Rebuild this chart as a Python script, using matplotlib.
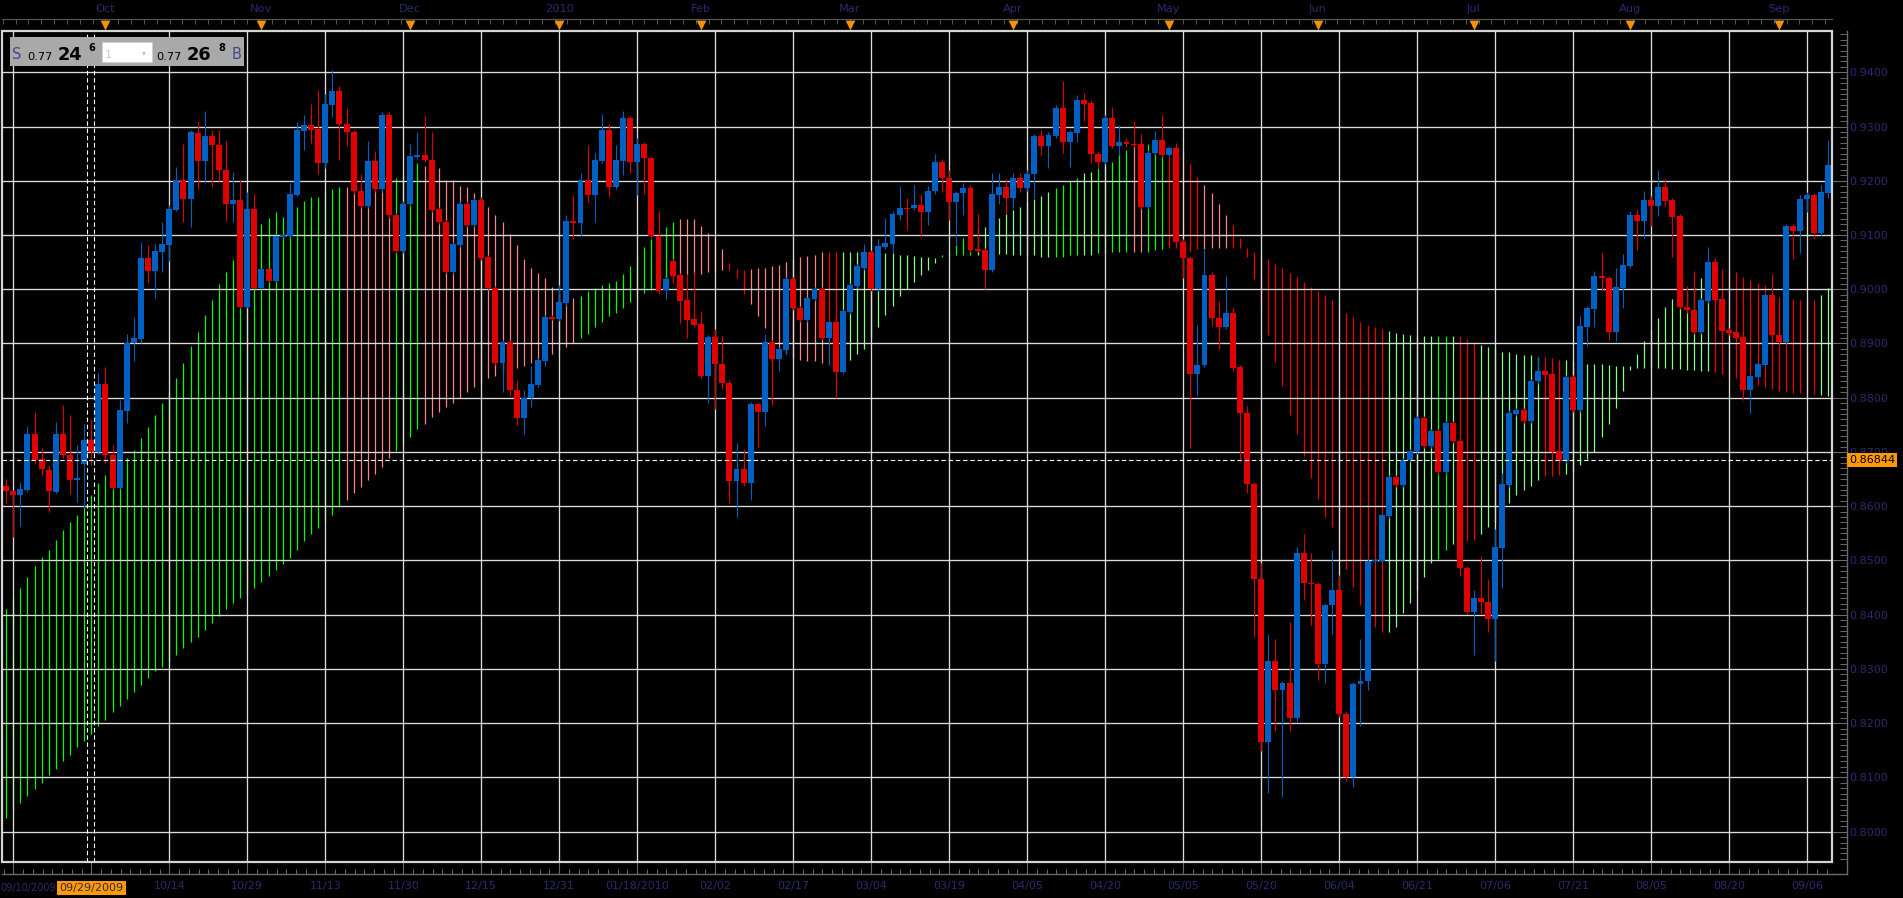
import numpy as np
import matplotlib
matplotlib.use("Agg")
import matplotlib.pyplot as plt
from matplotlib.patches import Rectangle
from matplotlib.lines import Line2D
from matplotlib.ticker import MultipleLocator, FixedLocator, FormatStrFormatter, NullFormatter
from matplotlib.transforms import blended_transform_factory

W, H = 1903, 898

# daily candles, one per bar (0 = first visible bar)
opens = [
    0.8638, 0.8628, 0.8620, 0.8630, 0.8734, 0.8687, 0.8666, 0.8626, 0.8734, 0.8694,
    0.8649, 0.8678, 0.8722, 0.8700, 0.8826, 0.8694, 0.8634, 0.8776, 0.8900, 0.8908,
    0.9058, 0.9034, 0.9068, 0.9082, 0.9146, 0.9202, 0.9166, 0.9288, 0.9236, 0.9282,
    0.9266, 0.9220, 0.9158, 0.9164, 0.8968, 0.9148, 0.9002, 0.9038, 0.9016, 0.9096,
    0.9098, 0.9174, 0.9292, 0.9303, 0.9296, 0.9232, 0.9340, 0.9366, 0.9304, 0.9290,
    0.9182, 0.9154, 0.9236, 0.9184, 0.9322, 0.9136, 0.9070, 0.9158, 0.9244, 0.9248,
    0.9238, 0.9148, 0.9124, 0.9032, 0.9082, 0.9158, 0.9118, 0.9164, 0.9060, 0.9002,
    0.8864, 0.8902, 0.8815, 0.8762, 0.8799, 0.8824, 0.8868, 0.8948, 0.8946, 0.8974,
    0.9126, 0.9122, 0.9202, 0.9174, 0.9236, 0.9294, 0.9188, 0.9236, 0.9316, 0.9234,
    0.9268, 0.9242, 0.9098, 0.8998, 0.9052, 0.9026, 0.8980, 0.8946, 0.8936, 0.8840,
    0.8912, 0.8862, 0.8828, 0.8646, 0.8668, 0.8642, 0.8788, 0.8774, 0.8902, 0.8872,
    0.8888, 0.9018, 0.8966, 0.8944, 0.8982, 0.9000, 0.8910, 0.8940, 0.8848, 0.8958,
    0.9006, 0.9040, 0.9068, 0.9000, 0.9078, 0.9084, 0.9136, 0.9150, 0.9150, 0.9156,
    0.9142, 0.9181, 0.9235, 0.9205, 0.9161, 0.9178, 0.9186, 0.9073, 0.9072, 0.9035,
    0.9173, 0.9188, 0.9168, 0.9205, 0.9186, 0.9212, 0.9282, 0.9264, 0.9282, 0.9334,
    0.9271, 0.9288, 0.9348, 0.9343, 0.9250, 0.9235, 0.9316, 0.9264, 0.9271, 0.9268,
    0.9268, 0.9152, 0.9251, 0.9275, 0.9248, 0.9260, 0.9088, 0.9058, 0.8843, 0.8861,
    0.9026, 0.8947, 0.8930, 0.8957, 0.8856, 0.8772, 0.8641, 0.8465, 0.8165, 0.8314,
    0.8261, 0.8274, 0.8210, 0.8513, 0.8459, 0.8456, 0.8309, 0.8417, 0.8446, 0.8217,
    0.8101, 0.8272, 0.8277, 0.8499, 0.8499, 0.8582, 0.8654, 0.8640, 0.8685, 0.8701,
    0.8762, 0.8711, 0.8738, 0.8663, 0.8753, 0.8721, 0.8487, 0.8405, 0.8431, 0.8424,
    0.8393, 0.8523, 0.8639, 0.8770, 0.8777, 0.8757, 0.8830, 0.8849, 0.8843, 0.8701,
    0.8683, 0.8838, 0.8778, 0.8931, 0.8964, 0.9024, 0.9021, 0.8922, 0.9002, 0.9043,
    0.9137, 0.9125, 0.9164, 0.9154, 0.9188, 0.9164, 0.9135, 0.8968, 0.8961, 0.8922,
    0.8978, 0.9051, 0.8982, 0.8925, 0.8922, 0.8912, 0.8814, 0.8839, 0.8860, 0.8989,
    0.8916, 0.8903, 0.9117, 0.9108, 0.9166, 0.9174, 0.9104, 0.9178,
]
highs = [
    0.8650, 0.8630, 0.8644, 0.8748, 0.8774, 0.8708, 0.8676, 0.8756, 0.8786, 0.8768,
    0.8712, 0.8752, 0.8760, 0.8846, 0.8856, 0.8712, 0.8796, 0.8918, 0.8948, 0.9088,
    0.9082, 0.9084, 0.9124, 0.9156, 0.9226, 0.9268, 0.9294, 0.9310, 0.9328, 0.9294,
    0.9294, 0.9274, 0.9216, 0.9202, 0.9180, 0.9176, 0.9040, 0.9040, 0.9100, 0.9102,
    0.9196, 0.9308, 0.9322, 0.9342, 0.9368, 0.9360, 0.9404, 0.9374, 0.9334, 0.9294,
    0.9212, 0.9274, 0.9254, 0.9326, 0.9326, 0.9140, 0.9162, 0.9268, 0.9290, 0.9320,
    0.9290, 0.9152, 0.9128, 0.9088, 0.9162, 0.9162, 0.9168, 0.9170, 0.9064, 0.9006,
    0.8906, 0.8906, 0.8832, 0.8815, 0.8858, 0.8874, 0.8952, 0.8952, 0.9008, 0.9136,
    0.9172, 0.9214, 0.9266, 0.9252, 0.9324, 0.9304, 0.9266, 0.9328, 0.9320, 0.9278,
    0.9272, 0.9246, 0.9145, 0.9022, 0.9056, 0.9030, 0.9028, 0.9032, 0.8960, 0.8916,
    0.8926, 0.8914, 0.8832, 0.8716, 0.8706, 0.8792, 0.8792, 0.8918, 0.8906, 0.8894,
    0.9022, 0.9022, 0.8970, 0.8986, 0.9004, 0.9004, 0.8944, 0.8944, 0.8964, 0.9012,
    0.9046, 0.9084, 0.9072, 0.9092, 0.9132, 0.9144, 0.9190, 0.9168, 0.9192, 0.9176,
    0.9190, 0.9250, 0.9240, 0.9219, 0.9182, 0.9195, 0.9193, 0.9138, 0.9076, 0.9214,
    0.9214, 0.9203, 0.9214, 0.9214, 0.9219, 0.9287, 0.9294, 0.9290, 0.9340, 0.9384,
    0.9294, 0.9359, 0.9361, 0.9349, 0.9254, 0.9322, 0.9336, 0.9302, 0.9278, 0.9310,
    0.9286, 0.9256, 0.9292, 0.9322, 0.9264, 0.9270, 0.9092, 0.9062, 0.8934, 0.9072,
    0.9032, 0.8978, 0.9024, 0.8968, 0.8860, 0.8785, 0.8645, 0.8496, 0.8364, 0.8356,
    0.8278, 0.8387, 0.8525, 0.8548, 0.8514, 0.8460, 0.8420, 0.8520, 0.8473, 0.8222,
    0.8276, 0.8356, 0.8503, 0.8504, 0.8587, 0.8658, 0.8658, 0.8689, 0.8705, 0.8766,
    0.8766, 0.8742, 0.8742, 0.8757, 0.8757, 0.8725, 0.8490, 0.8446, 0.8508, 0.8466,
    0.8558, 0.8661, 0.8777, 0.8781, 0.8781, 0.8835, 0.8876, 0.8853, 0.8847, 0.8705,
    0.8842, 0.8842, 0.8951, 0.8970, 0.9033, 0.9066, 0.9025, 0.9040, 0.9065, 0.9145,
    0.9148, 0.9181, 0.9172, 0.9220, 0.9203, 0.9168, 0.9139, 0.9006, 0.9034, 0.8984,
    0.9078, 0.9057, 0.8986, 0.8929, 0.8926, 0.8916, 0.8844, 0.8866, 0.8993, 0.9028,
    0.8920, 0.9121, 0.9121, 0.9174, 0.9179, 0.9178, 0.9192, 0.9275,
]
lows = [
    0.8606, 0.8544, 0.8564, 0.8626, 0.8680, 0.8656, 0.8590, 0.8624, 0.8688, 0.8622,
    0.8608, 0.8596, 0.8676, 0.8696, 0.8680, 0.8632, 0.8632, 0.8754, 0.8868, 0.8900,
    0.9012, 0.8984, 0.9032, 0.9052, 0.9144, 0.9124, 0.9114, 0.9184, 0.9196, 0.9188,
    0.9200, 0.9126, 0.9124, 0.8966, 0.8966, 0.9000, 0.9000, 0.9014, 0.9014, 0.9094,
    0.9096, 0.9172, 0.9256, 0.9270, 0.9212, 0.9224, 0.9318, 0.9238, 0.9264, 0.9176,
    0.9150, 0.9150, 0.9180, 0.9180, 0.9132, 0.9066, 0.9066, 0.9154, 0.9240, 0.9234,
    0.9142, 0.9120, 0.9030, 0.9028, 0.9078, 0.9114, 0.9114, 0.9054, 0.8998, 0.8860,
    0.8810, 0.8804, 0.8750, 0.8734, 0.8782, 0.8820, 0.8858, 0.8944, 0.8942, 0.8970,
    0.9092, 0.9098, 0.9160, 0.9124, 0.9232, 0.9170, 0.9184, 0.9210, 0.9215, 0.9174,
    0.9176, 0.9094, 0.8992, 0.8982, 0.9012, 0.8938, 0.8910, 0.8930, 0.8836, 0.8790,
    0.8780, 0.8816, 0.8606, 0.8580, 0.8638, 0.8612, 0.8710, 0.8748, 0.8786, 0.8850,
    0.8878, 0.8962, 0.8940, 0.8940, 0.8978, 0.8906, 0.8860, 0.8800, 0.8844, 0.8954,
    0.9002, 0.9036, 0.8996, 0.8996, 0.9074, 0.9066, 0.9128, 0.9110, 0.9146, 0.9096,
    0.9118, 0.9175, 0.9180, 0.9127, 0.9083, 0.9136, 0.9068, 0.9068, 0.9000, 0.9032,
    0.9158, 0.9138, 0.9149, 0.9180, 0.9182, 0.9168, 0.9248, 0.9223, 0.9278, 0.9251,
    0.9226, 0.9271, 0.9311, 0.9232, 0.9223, 0.9230, 0.9260, 0.9247, 0.9262, 0.9262,
    0.9148, 0.9148, 0.9247, 0.9244, 0.9244, 0.9084, 0.9021, 0.8707, 0.8803, 0.8857,
    0.8932, 0.8889, 0.8926, 0.8850, 0.8684, 0.8624, 0.8358, 0.8148, 0.8071, 0.8185,
    0.8064, 0.8185, 0.8202, 0.8428, 0.8381, 0.8280, 0.8275, 0.8364, 0.8212, 0.8094,
    0.8082, 0.8194, 0.8262, 0.8496, 0.8496, 0.8578, 0.8636, 0.8636, 0.8681, 0.8697,
    0.8707, 0.8707, 0.8659, 0.8659, 0.8717, 0.8471, 0.8401, 0.8325, 0.8402, 0.8369,
    0.8314, 0.8450, 0.8635, 0.8766, 0.8753, 0.8753, 0.8826, 0.8838, 0.8696, 0.8679,
    0.8679, 0.8774, 0.8774, 0.8896, 0.8930, 0.8999, 0.8907, 0.8905, 0.8965, 0.9039,
    0.9072, 0.9095, 0.9117, 0.9135, 0.9153, 0.9059, 0.8964, 0.8957, 0.8918, 0.8918,
    0.8974, 0.8977, 0.8919, 0.8915, 0.8907, 0.8796, 0.8771, 0.8835, 0.8856, 0.8912,
    0.8899, 0.8899, 0.9055, 0.9066, 0.9142, 0.9093, 0.9098, 0.9168,
]
closes = [
    0.8628, 0.8620, 0.8632, 0.8734, 0.8686, 0.8668, 0.8628, 0.8734, 0.8694, 0.8648,
    0.8652, 0.8722, 0.8700, 0.8826, 0.8694, 0.8634, 0.8778, 0.8900, 0.8910, 0.9058,
    0.9034, 0.9070, 0.9084, 0.9148, 0.9202, 0.9166, 0.9290, 0.9236, 0.9282, 0.9266,
    0.9220, 0.9158, 0.9164, 0.8968, 0.9148, 0.9002, 0.9038, 0.9016, 0.9098, 0.9100,
    0.9176, 0.9294, 0.9303, 0.9294, 0.9232, 0.9342, 0.9366, 0.9304, 0.9290, 0.9182,
    0.9154, 0.9236, 0.9184, 0.9322, 0.9136, 0.9070, 0.9158, 0.9246, 0.9248, 0.9238,
    0.9146, 0.9124, 0.9032, 0.9084, 0.9158, 0.9118, 0.9164, 0.9058, 0.9002, 0.8864,
    0.8902, 0.8815, 0.8762, 0.8799, 0.8826, 0.8870, 0.8948, 0.8945, 0.8976, 0.9126,
    0.9122, 0.9202, 0.9174, 0.9238, 0.9294, 0.9188, 0.9238, 0.9316, 0.9234, 0.9268,
    0.9242, 0.9098, 0.8996, 0.9018, 0.9024, 0.8978, 0.8944, 0.8934, 0.8840, 0.8912,
    0.8862, 0.8828, 0.8646, 0.8668, 0.8642, 0.8788, 0.8774, 0.8902, 0.8872, 0.8890,
    0.9018, 0.8966, 0.8944, 0.8983, 0.9000, 0.8910, 0.8940, 0.8848, 0.8960, 0.9008,
    0.9042, 0.9068, 0.9000, 0.9080, 0.9086, 0.9138, 0.9150, 0.9148, 0.9156, 0.9142,
    0.9182, 0.9235, 0.9205, 0.9161, 0.9178, 0.9186, 0.9072, 0.9071, 0.9035, 0.9175,
    0.9188, 0.9168, 0.9205, 0.9186, 0.9212, 0.9282, 0.9264, 0.9284, 0.9334, 0.9271,
    0.9290, 0.9348, 0.9342, 0.9250, 0.9235, 0.9316, 0.9264, 0.9271, 0.9267, 0.9266,
    0.9152, 0.9251, 0.9275, 0.9248, 0.9260, 0.9088, 0.9058, 0.8843, 0.8861, 0.9026,
    0.8947, 0.8930, 0.8957, 0.8854, 0.8772, 0.8641, 0.8465, 0.8165, 0.8314, 0.8261,
    0.8274, 0.8210, 0.8513, 0.8458, 0.8456, 0.8309, 0.8418, 0.8446, 0.8217, 0.8101,
    0.8272, 0.8277, 0.8499, 0.8501, 0.8583, 0.8654, 0.8640, 0.8685, 0.8701, 0.8762,
    0.8711, 0.8738, 0.8663, 0.8753, 0.8721, 0.8487, 0.8405, 0.8431, 0.8424, 0.8393,
    0.8525, 0.8641, 0.8772, 0.8777, 0.8757, 0.8831, 0.8849, 0.8842, 0.8700, 0.8683,
    0.8838, 0.8778, 0.8932, 0.8965, 0.9024, 0.9020, 0.8922, 0.9004, 0.9045, 0.9137,
    0.9125, 0.9164, 0.9154, 0.9188, 0.9163, 0.9134, 0.8968, 0.8961, 0.8922, 0.8980,
    0.9051, 0.8981, 0.8923, 0.8919, 0.8911, 0.8814, 0.8840, 0.8862, 0.8989, 0.8916,
    0.8903, 0.9117, 0.9108, 0.9167, 0.9174, 0.9104, 0.9180, 0.9229,
]

# ichimoku cloud, upper and lower edge per bar
cloud_top = [
    0.8411, 0.8430, 0.8450, 0.8470, 0.8489, 0.8506, 0.8520, 0.8538, 0.8557, 0.8571,
    0.8584, 0.8599, 0.8620, 0.8643, 0.8658, 0.8665, 0.8674, 0.8689, 0.8704, 0.8726,
    0.8746, 0.8768, 0.8790, 0.8810, 0.8836, 0.8864, 0.8896, 0.8922, 0.8952, 0.8980,
    0.9010, 0.9032, 0.9054, 0.9062, 0.9084, 0.9104, 0.9120, 0.9132, 0.9142, 0.9134,
    0.9142, 0.9152, 0.9162, 0.9170, 0.9170, 0.9180, 0.9184, 0.9188, 0.9188, 0.9188,
    0.9176, 0.9184, 0.9188, 0.9184, 0.9184, 0.9206, 0.9210, 0.9224, 0.9232, 0.9228,
    0.9228, 0.9224, 0.9202, 0.9202, 0.9190, 0.9188, 0.9178, 0.9168, 0.9152, 0.9136,
    0.9124, 0.9102, 0.9082, 0.9056, 0.9040, 0.9030, 0.9020, 0.9004, 0.8992, 0.8984,
    0.8984, 0.8988, 0.8996, 0.9002, 0.9008, 0.9012, 0.9016, 0.9028, 0.9042, 0.9060,
    0.9078, 0.9092, 0.9104, 0.9114, 0.9124, 0.9130, 0.9130, 0.9130, 0.9116, 0.9104,
    0.9092, 0.9074, 0.9048, 0.9038, 0.9036, 0.9038, 0.9040, 0.9040, 0.9042, 0.9044,
    0.9050, 0.9056, 0.9060, 0.9062, 0.9064, 0.9068, 0.9068, 0.9068, 0.9068, 0.9068,
    0.9068, 0.9068, 0.9068, 0.9068, 0.9066, 0.9066, 0.9064, 0.9064, 0.9062, 0.9060,
    0.9060, 0.9058, 0.9063, 0.9069, 0.9081, 0.9094, 0.9101, 0.9113, 0.9115, 0.9123,
    0.9131, 0.9138, 0.9146, 0.9152, 0.9161, 0.9166, 0.9172, 0.9180, 0.9187, 0.9193,
    0.9200, 0.9205, 0.9214, 0.9217, 0.9223, 0.9226, 0.9235, 0.9247, 0.9256, 0.9267,
    0.9262, 0.9267, 0.9267, 0.9269, 0.9262, 0.9258, 0.9253, 0.9230, 0.9207, 0.9193,
    0.9177, 0.9157, 0.9136, 0.9118, 0.9094, 0.9076, 0.9069, 0.9063, 0.9056, 0.9046,
    0.9039, 0.9030, 0.9022, 0.9014, 0.9005, 0.8996, 0.8989, 0.8980, 0.8970, 0.8957,
    0.8948, 0.8940, 0.8934, 0.8930, 0.8927, 0.8923, 0.8919, 0.8918, 0.8916, 0.8914,
    0.8914, 0.8913, 0.8913, 0.8914, 0.8914, 0.8913, 0.8908, 0.8902, 0.8898, 0.8893,
    0.8891, 0.8884, 0.8884, 0.8880, 0.8878, 0.8878, 0.8876, 0.8876, 0.8874, 0.8870,
    0.8870, 0.8868, 0.8865, 0.8863, 0.8863, 0.8862, 0.8860, 0.8858, 0.8858, 0.8858,
    0.8880, 0.8905, 0.8925, 0.8947, 0.8967, 0.8982, 0.8987, 0.8993, 0.9004, 0.9020,
    0.9031, 0.9045, 0.9038, 0.9037, 0.9031, 0.9022, 0.9017, 0.9011, 0.9008, 0.8994,
    0.8986, 0.8984, 0.8982, 0.8980, 0.8980, 0.8980, 0.8989, 0.9002,
]
cloud_bot = [
    0.8025, 0.8040, 0.8052, 0.8066, 0.8078, 0.8090, 0.8104, 0.8116, 0.8130, 0.8142,
    0.8156, 0.8168, 0.8180, 0.8194, 0.8206, 0.8220, 0.8232, 0.8244, 0.8258, 0.8270,
    0.8284, 0.8296, 0.8304, 0.8313, 0.8325, 0.8338, 0.8349, 0.8359, 0.8371, 0.8384,
    0.8397, 0.8410, 0.8421, 0.8431, 0.8439, 0.8449, 0.8460, 0.8471, 0.8482, 0.8494,
    0.8504, 0.8519, 0.8536, 0.8548, 0.8560, 0.8572, 0.8584, 0.8598, 0.8612, 0.8624,
    0.8636, 0.8648, 0.8660, 0.8672, 0.8688, 0.8702, 0.8716, 0.8728, 0.8742, 0.8752,
    0.8764, 0.8774, 0.8782, 0.8790, 0.8800, 0.8810, 0.8820, 0.8828, 0.8836, 0.8840,
    0.8846, 0.8852, 0.8854, 0.8858, 0.8864, 0.8870, 0.8876, 0.8880, 0.8888, 0.8894,
    0.8900, 0.8910, 0.8918, 0.8930, 0.8940, 0.8950, 0.8956, 0.8966, 0.8977, 0.8984,
    0.8994, 0.8998, 0.9004, 0.9004, 0.9018, 0.9020, 0.9024, 0.9026, 0.9028, 0.9032,
    0.9034, 0.9036, 0.9036, 0.9020, 0.8992, 0.8972, 0.8950, 0.8928, 0.8904, 0.8890,
    0.8880, 0.8874, 0.8870, 0.8868, 0.8868, 0.8864, 0.8862, 0.8862, 0.8864, 0.8870,
    0.8880, 0.8890, 0.8910, 0.8930, 0.8952, 0.8970, 0.8988, 0.9000, 0.9014, 0.9026,
    0.9036, 0.9049, 0.9059, 0.9063, 0.9063, 0.9063, 0.9063, 0.9063, 0.9063, 0.9065,
    0.9065, 0.9065, 0.9063, 0.9063, 0.9063, 0.9063, 0.9060, 0.9060, 0.9060, 0.9060,
    0.9063, 0.9063, 0.9063, 0.9063, 0.9067, 0.9067, 0.9069, 0.9069, 0.9069, 0.9069,
    0.9069, 0.9069, 0.9072, 0.9074, 0.9076, 0.9076, 0.9076, 0.9069, 0.9074, 0.9074,
    0.9076, 0.9076, 0.9076, 0.9076, 0.9076, 0.9060, 0.9019, 0.8964, 0.8915, 0.8866,
    0.8821, 0.8769, 0.8734, 0.8693, 0.8652, 0.8613, 0.8581, 0.8562, 0.8530, 0.8485,
    0.8451, 0.8417, 0.8399, 0.8378, 0.8368, 0.8368, 0.8377, 0.8404, 0.8422, 0.8446,
    0.8470, 0.8496, 0.8503, 0.8519, 0.8530, 0.8532, 0.8535, 0.8537, 0.8548, 0.8561,
    0.8570, 0.8592, 0.8606, 0.8621, 0.8630, 0.8638, 0.8649, 0.8655, 0.8655, 0.8657,
    0.8659, 0.8665, 0.8676, 0.8687, 0.8700, 0.8727, 0.8752, 0.8781, 0.8813, 0.8851,
    0.8854, 0.8854, 0.8854, 0.8854, 0.8854, 0.8853, 0.8853, 0.8851, 0.8851, 0.8849,
    0.8849, 0.8847, 0.8843, 0.8840, 0.8836, 0.8829, 0.8827, 0.8824, 0.8819, 0.8816,
    0.8813, 0.8811, 0.8809, 0.8808, 0.8807, 0.8806, 0.8805, 0.8803,
]
# G bright green, g light green, R red, r light red
cloud_kind = "".join([
    "GGGGGGGGGG", "GGGGGGGGGG", "GGGGGGGGGG", "GGGGGGGGGG", "GGGGGGGGrr",
    "rrrrrGGGGr", "rrrrrrrrrr", "rrrrrrrrrr", "rGGGGGGGGG", "GGGGGrrrrr",
    "rrRRRrrrrr", "rrrrrrRRgg", "gggggggggg", "ggGGGGGggG", "ggggggggGG",
    "GGggGGGGGr", "rGGGRRRRRr", "rrrRRRRRRR", "RRRRRRRRRR", "RRRRRggggg",
    "ggGGgRRRgg", "gggggggRRR", "gggggggggg", "gggggggggg", "gRRRRRRRRR",
    "RRRRRRgg",
])

date_labels = ["", "", "10/14", "10/29", "11/13", "11/30", "12/15", "12/31",
               "01/18/2010", "02/02", "02/17", "03/04", "03/19", "04/05", "04/20",
               "05/05", "05/20", "06/04", "06/21", "07/06", "07/21", "08/05",
               "08/20", "09/06"]
first_label = "09/10/2009"
months = ["Oct", "Nov", "Dec", "2010", "Feb", "Mar", "Apr", "May", "Jun", "Jul", "Aug", "Sep"]
month_bar = [14, 36, 57, 78, 98, 119, 142, 164, 185, 207, 229, 250]
cursor_bar = 12
cursor_label = "09/29/2009"
last_price = 0.86844

NAVY = "#2b2b6c"
BLUE = "#0060c4"
RED = "#e00000"
GRID = "#dcdcdc"
kind_color = {"G": "#00ff00", "g": "#88ff88", "R": "#f00000", "r": "#ff8484"}

fig = plt.figure(figsize=(W / 100, H / 100), dpi=100, facecolor="black")
ax = fig.add_axes([2 / W, (H - 862) / H, 1830 / W, 831 / H], facecolor="black")
ax.set_xlim(-0.59, 257.5)
ax.set_ylim(0.79441, 0.94761)

x = np.arange(len(opens))
o = np.array(opens)
c = np.array(closes)
up = c >= o
cc = np.where(up, BLUE, RED)

# grid
grid_bars = np.arange(1, 258, 11)
for g in grid_bars:
    if g != cursor_bar:
        ax.axvline(g, color=GRID, lw=0.95, zorder=1.5)
yt = np.round(np.arange(0.80, 0.9401, 0.01), 2)
for p in yt:
    ax.axhline(p, color=GRID, lw=0.95, zorder=1.5)

# cloud
ax.vlines(x, cloud_bot, cloud_top, colors=[kind_color[k] for k in cloud_kind], lw=0.9, zorder=1)

# candles
ax.vlines(x, lows, highs, colors=cc, lw=0.8, zorder=2)
body_lo = np.minimum(o, c)
body_h = np.maximum(np.abs(c - o), 0.00025)
ax.bar(x, body_h, bottom=body_lo, width=0.84, color=cc, lw=0, zorder=3)

# cursor and last price
for cx in (cursor_bar - 0.55, cursor_bar + 0.45):
    ax.axvline(cx, color="white", lw=0.8, ls=(0, (4, 2.5)), zorder=4)
ax.axhline(last_price, color="white", lw=0.8, ls=(0, (4, 2.5)), zorder=4)

# axes frame and spines
for s in ("left", "top"):
    ax.spines[s].set_visible(False)
ax.spines["right"].set_position(("outward", 10.8))
ax.spines["bottom"].set_position(("outward", 8.6))
for s in ("right", "bottom"):
    ax.spines[s].set_color("#6a6a6a")
    ax.spines[s].set_linewidth(1.0)
ax.add_patch(Rectangle((0, 0), 1, 1, transform=ax.transAxes, fill=False,
                       ec="#d4d4d4", lw=1.6, zorder=6, clip_on=False))
fig.add_artist(Line2D([1847 / W, 1847 / W], [1 - 862 / H, 1 - 874 / H],
                      color="#6a6a6a", lw=1.0))
fig.add_artist(Line2D([1832 / W, 1847 / W], [1 - 874 / H, 1 - 874 / H],
                      color="#6a6a6a", lw=1.0))

# price axis
ax.yaxis.tick_right()
ax.set_yticks(yt)
ax.yaxis.set_major_formatter(FormatStrFormatter("%.4f"))
ax.yaxis.set_minor_locator(MultipleLocator(0.001))
ax.tick_params(axis="y", which="major", direction="in", length=10.8, width=0.8,
               color="#6a6a6a", pad=1.8, labelsize=8, labelcolor=NAVY)
ax.tick_params(axis="y", which="minor", direction="in", length=5, width=0.7, color="#6a6a6a")

# date axis
ax.set_xticks(grid_bars, labels=date_labels)
ax.xaxis.set_minor_locator(FixedLocator(np.arange(-0.375, 258, 1.375)))
ax.tick_params(axis="x", which="major", direction="in", length=8.6, width=0.8,
               color="#6a6a6a", pad=5.2, labelsize=8, labelcolor=NAVY)
ax.tick_params(axis="x", which="minor", direction="in", length=3.5, width=0.7, color="#6a6a6a")

tr = blended_transform_factory(ax.transData, ax.transAxes)
# first date squeezed in front of the cursor flag
fig.text(0.5 / W, 1 - 888 / H, first_label, ha="left", va="center",
         fontsize=7.0, color=NAVY)
ax.text(cursor_bar, -0.0313, cursor_label, transform=tr, ha="center", va="center",
        fontsize=8, color="#2a2a5a", clip_on=False, zorder=7,
        bbox=dict(boxstyle="square,pad=0.2", fc="#ff9900", ec="none"))

# top ruler with month markers
sec = ax.secondary_xaxis(1 + 12 / 831)
sec.set_xticks(np.arange(-0.49, 258, 1.81))
sec.xaxis.set_major_formatter(NullFormatter())
sec.tick_params(direction="in", length=3.8, width=0.7, color="#555555")
sec.spines["top"].set_color("#555555")
sec.spines["top"].set_linewidth(0.9)
ax.scatter(month_bar, [1.0078] * len(month_bar), marker="v", s=50, color="#f0920c",
           transform=tr, clip_on=False, zorder=7, linewidths=0)
for m, lab in zip(month_bar, months):
    ax.text(m, 1.0262, lab, transform=tr, ha="center", va="center", fontsize=8.2,
            color=NAVY, clip_on=False)

# last price flag
tr2 = blended_transform_factory(ax.transAxes, ax.transData)
ax.text(1847 / 1830, last_price, "0.86844", transform=tr2, ha="left", va="center",
        fontsize=8, color="black", clip_on=False, zorder=8,
        bbox=dict(boxstyle="square,pad=0.18", fc="#ff9900", ec="none"))

# quote box top left
def fx(px):
    return px / W

def fy(py):
    return 1 - py / H

fig.add_artist(Rectangle((fx(10), fy(66)), 234 / W, 29 / H, transform=fig.transFigure,
                         fc="#a9a9a9", ec="none", zorder=10))
fig.add_artist(Rectangle((fx(102), fy(62)), 50 / W, 20 / H, transform=fig.transFigure,
                         fc="white", ec="#d0d0d0", lw=0.6, zorder=11))
txt = dict(transform=fig.transFigure, zorder=12)
fig.text(fx(12), fy(59), "S", fontsize=10.5, color="#45458c", va="baseline", **txt)
fig.text(fx(27), fy(60), "0.77", fontsize=8.2, color="black", va="baseline", **txt)
fig.text(fx(58), fy(60), "24", fontsize=12.8, color="black", weight="bold", va="baseline", **txt)
fig.text(fx(88), fy(51), "6", fontsize=7, color="black", weight="bold", va="baseline", **txt)
fig.text(fx(105), fy(58), "1", fontsize=8, color="#c8c8c8", va="baseline", **txt)
fig.text(fx(142), fy(55), "\u25be", fontsize=5.5, color="#c0c0c0", va="baseline", **txt)
fig.text(fx(156), fy(60), "0.77", fontsize=8.2, color="black", va="baseline", **txt)
fig.text(fx(187), fy(60), "26", fontsize=12.8, color="black", weight="bold", va="baseline", **txt)
fig.text(fx(218), fy(51), "8", fontsize=7, color="black", weight="bold", va="baseline", **txt)
fig.text(fx(232), fy(59), "B", fontsize=10.5, color="#45458c", va="baseline", **txt)

fig.savefig("out.png", dpi=100, facecolor="black")
